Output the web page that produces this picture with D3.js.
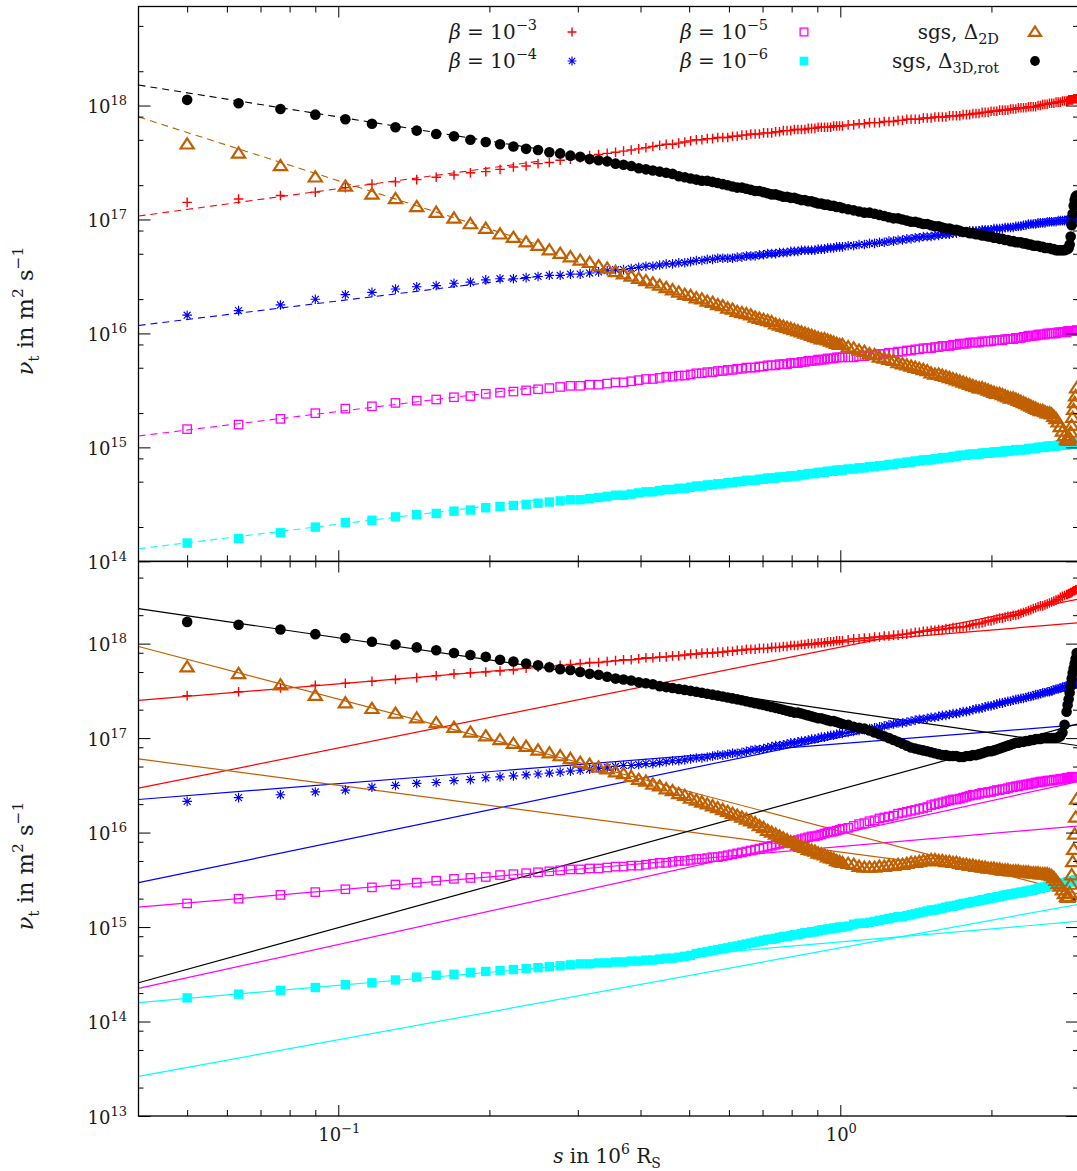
<!DOCTYPE html>
<html>
<head>
<meta charset="utf-8">
<script src="https://cdn.jsdelivr.net/npm/d3@7"></script>
<style>
  body { margin: 0; background: #fff; }
  svg { display: block; }
  text { font-family: "DejaVu Serif", "Liberation Serif", serif; fill: #1a1a1a; }
</style>
</head>
<body>
<svg id="chart" width="1077" height="1171"></svg>
<script>
// Distance along the jet, s (in 10^6 R_S), at which the profiles are sampled
const sGrid = [
  0.05,0.0633,0.0767,0.09,0.1033,0.1167,0.13,0.1433,0.1567,0.17,
  0.1833,0.1967,0.21,0.2233,0.2367,0.25,0.2633,0.2767,0.29,0.3033,
  0.3167,0.33,0.3433,0.3567,0.37,0.3833,0.3967,0.41,0.4233,0.4367,
  0.45,0.4633,0.4767,0.49,0.5033,0.5167,0.53,0.5433,0.5567,0.57,
  0.5833,0.5967,0.61,0.6233,0.6367,0.65,0.6633,0.6767,0.69,0.7033,
  0.7167,0.73,0.7433,0.7567,0.77,0.7833,0.7967,0.81,0.8233,0.8367,
  0.85,0.8633,0.8767,0.89,0.9033,0.9167,0.93,0.9433,0.9567,0.97,
  0.9833,0.9967,1.01,1.0367,1.0633,1.09,1.1167,1.1433,1.17,1.1967,
  1.2233,1.25,1.2767,1.3033,1.33,1.3567,1.3833,1.41,1.4367,1.4633,
  1.49,1.5167,1.5433,1.57,1.5967,1.6233,1.65,1.6767,1.7033,1.73,
  1.7567,1.7833,1.81,1.8367,1.8633,1.89,1.9167,1.9433,1.97,1.9967,
  2.0233,2.05,2.0767,2.1033,2.13,2.1567,2.1833,2.21,2.2367,2.2633,
  2.29,2.3167,2.3433,2.37,2.3967,2.4233,2.45,2.4767,2.5033,2.53,
  2.5567,2.5833,2.61,2.6367,2.6633,2.69,2.7167,2.7433,2.77,2.7967,
  2.8233,2.8367,2.85,2.8633,2.8767,2.89,2.9033,2.9167,2.93,2.9433,
  2.9567];

// log10 of nu_t (m^2 s^-1), upper panel
const topBeta3 = [
  17.15,17.18,17.21,17.24,17.28,17.31,17.33,17.35,17.37,17.39,
  17.41,17.42,17.44,17.46,17.47,17.49,17.50,17.52,17.53,17.54,
  17.56,17.57,17.58,17.59,17.60,17.61,17.62,17.63,17.64,17.65,
  17.66,17.66,17.67,17.68,17.69,17.70,17.70,17.71,17.71,17.72,
  17.72,17.72,17.73,17.73,17.74,17.74,17.75,17.75,17.75,17.76,
  17.76,17.76,17.77,17.77,17.78,17.78,17.78,17.79,17.79,17.79,
  17.79,17.80,17.80,17.80,17.81,17.81,17.81,17.81,17.81,17.82,
  17.82,17.82,17.82,17.83,17.83,17.84,17.84,17.85,17.85,17.85,
  17.86,17.86,17.86,17.87,17.87,17.88,17.88,17.88,17.88,17.89,
  17.89,17.89,17.90,17.90,17.90,17.90,17.91,17.91,17.91,17.91,
  17.92,17.92,17.92,17.93,17.93,17.93,17.94,17.94,17.94,17.95,
  17.95,17.95,17.96,17.96,17.96,17.96,17.97,17.97,17.97,17.98,
  17.98,17.98,17.98,17.99,17.99,17.99,17.99,18.00,18.00,18.01,
  18.01,18.01,18.02,18.02,18.02,18.03,18.03,18.03,18.04,18.04,
  18.04,18.04,18.05,18.05,18.05,18.05,18.05,18.06,18.06,18.06,
  18.06];
const topBeta4 = [
  16.16,16.20,16.25,16.30,16.34,16.36,16.39,16.41,16.42,16.44,
  16.45,16.47,16.48,16.48,16.49,16.50,16.51,16.51,16.52,16.52,
  16.53,16.54,16.55,16.56,16.56,16.57,16.58,16.59,16.59,16.60,
  16.61,16.61,16.62,16.62,16.63,16.64,16.64,16.65,16.65,16.66,
  16.66,16.66,16.66,16.67,16.67,16.68,16.68,16.68,16.69,16.69,
  16.70,16.70,16.70,16.71,16.71,16.71,16.72,16.72,16.72,16.73,
  16.73,16.73,16.73,16.73,16.74,16.74,16.74,16.75,16.75,16.75,
  16.76,16.76,16.76,16.77,16.77,16.78,16.78,16.79,16.79,16.80,
  16.80,16.81,16.81,16.82,16.82,16.83,16.83,16.84,16.84,16.85,
  16.85,16.85,16.86,16.86,16.87,16.87,16.87,16.88,16.88,16.89,
  16.89,16.89,16.90,16.90,16.90,16.90,16.91,16.91,16.91,16.91,
  16.92,16.92,16.92,16.92,16.93,16.93,16.93,16.93,16.94,16.94,
  16.94,16.95,16.95,16.96,16.96,16.96,16.96,16.97,16.97,16.97,
  16.97,16.98,16.98,16.98,16.98,16.98,16.99,16.99,16.99,16.99,
  16.99,17.00,17.00,17.00,17.00,17.00,17.00,17.00,17.00,17.00,
  17.01];
const topBeta5 = [
  15.16,15.20,15.25,15.30,15.34,15.36,15.39,15.41,15.42,15.44,
  15.45,15.47,15.48,15.49,15.50,15.51,15.52,15.53,15.54,15.54,
  15.55,15.55,15.56,15.57,15.57,15.58,15.59,15.60,15.60,15.61,
  15.62,15.62,15.63,15.63,15.64,15.65,15.65,15.66,15.66,15.67,
  15.67,15.68,15.68,15.69,15.69,15.70,15.70,15.70,15.71,15.71,
  15.72,15.72,15.72,15.73,15.73,15.73,15.74,15.74,15.74,15.75,
  15.75,15.76,15.76,15.76,15.77,15.77,15.77,15.78,15.78,15.78,
  15.79,15.79,15.79,15.79,15.79,15.80,15.80,15.81,15.81,15.82,
  15.82,15.83,15.83,15.84,15.84,15.85,15.85,15.86,15.86,15.87,
  15.87,15.87,15.88,15.88,15.89,15.89,15.89,15.90,15.90,15.91,
  15.91,15.91,15.92,15.92,15.92,15.92,15.93,15.93,15.93,15.93,
  15.94,15.94,15.94,15.94,15.95,15.95,15.95,15.95,15.96,15.96,
  15.96,15.97,15.97,15.98,15.98,15.98,15.98,15.99,15.99,15.99,
  15.99,16.00,16.00,16.00,16.00,16.00,16.01,16.01,16.01,16.01,
  16.01,16.02,16.02,16.02,16.02,16.02,16.02,16.02,16.02,16.02,
  16.03];
const topBeta6 = [
  14.16,14.20,14.25,14.30,14.34,14.36,14.39,14.41,14.42,14.44,
  14.45,14.47,14.48,14.49,14.50,14.51,14.52,14.53,14.54,14.54,
  14.55,14.56,14.57,14.58,14.58,14.59,14.60,14.61,14.61,14.62,
  14.63,14.63,14.64,14.64,14.65,14.66,14.66,14.67,14.67,14.68,
  14.68,14.69,14.69,14.70,14.70,14.71,14.71,14.71,14.72,14.72,
  14.73,14.73,14.73,14.74,14.74,14.74,14.75,14.75,14.75,14.76,
  14.76,14.77,14.77,14.77,14.78,14.78,14.78,14.79,14.79,14.79,
  14.80,14.80,14.80,14.81,14.81,14.82,14.82,14.83,14.83,14.84,
  14.84,14.85,14.85,14.86,14.86,14.87,14.87,14.88,14.88,14.89,
  14.89,14.89,14.90,14.90,14.91,14.91,14.91,14.92,14.92,14.93,
  14.93,14.93,14.94,14.94,14.94,14.94,14.95,14.95,14.95,14.95,
  14.96,14.96,14.96,14.96,14.97,14.97,14.97,14.97,14.98,14.98,
  14.98,14.98,14.98,14.99,14.99,14.99,14.99,15.00,15.00,15.00,
  15.00,15.01,15.01,15.01,15.01,15.01,15.02,15.02,15.02,15.02,
  15.02,15.03,15.03,15.03,15.03,15.03,15.03,15.03,15.03,15.03,
  15.04];
const topSgs2D = [
  17.66,17.58,17.47,17.37,17.29,17.22,17.18,17.11,17.06,17.01,
  16.96,16.92,16.87,16.84,16.80,16.77,16.73,16.70,16.67,16.64,
  16.62,16.59,16.57,16.54,16.52,16.50,16.48,16.46,16.44,16.42,
  16.40,16.38,16.36,16.34,16.33,16.31,16.30,16.28,16.27,16.25,
  16.24,16.22,16.21,16.19,16.18,16.17,16.16,16.14,16.13,16.12,
  16.11,16.10,16.08,16.07,16.06,16.05,16.04,16.03,16.02,16.01,
  16.00,15.99,15.98,15.97,15.96,15.95,15.95,15.94,15.93,15.92,
  15.91,15.90,15.90,15.88,15.87,15.85,15.84,15.82,15.81,15.79,
  15.78,15.77,15.76,15.74,15.73,15.72,15.71,15.70,15.69,15.68,
  15.67,15.65,15.64,15.64,15.63,15.62,15.61,15.60,15.59,15.58,
  15.57,15.56,15.55,15.54,15.53,15.52,15.52,15.51,15.50,15.49,
  15.48,15.47,15.47,15.46,15.45,15.44,15.43,15.43,15.42,15.41,
  15.40,15.39,15.38,15.37,15.36,15.35,15.34,15.33,15.32,15.32,
  15.31,15.30,15.30,15.29,15.27,15.25,15.22,15.18,15.14,15.10,
  15.07,15.06,15.06,15.08,15.13,15.19,15.26,15.33,15.39,15.45,
  15.52];
const topSgs3D = [
  18.05,18.02,17.97,17.92,17.88,17.84,17.81,17.78,17.75,17.73,
  17.70,17.68,17.66,17.64,17.62,17.61,17.59,17.58,17.56,17.55,
  17.53,17.52,17.51,17.49,17.48,17.47,17.45,17.44,17.43,17.42,
  17.41,17.40,17.38,17.37,17.36,17.35,17.34,17.34,17.33,17.32,
  17.31,17.30,17.29,17.28,17.28,17.27,17.26,17.25,17.25,17.24,
  17.23,17.22,17.22,17.21,17.20,17.20,17.19,17.19,17.18,17.17,
  17.17,17.16,17.16,17.15,17.14,17.14,17.13,17.13,17.12,17.12,
  17.11,17.11,17.10,17.09,17.08,17.07,17.06,17.06,17.05,17.04,
  17.03,17.02,17.01,17.01,17.00,16.99,16.98,16.98,16.97,16.96,
  16.96,16.95,16.94,16.94,16.93,16.92,16.92,16.91,16.91,16.90,
  16.89,16.89,16.88,16.88,16.87,16.87,16.86,16.86,16.85,16.85,
  16.84,16.84,16.83,16.83,16.82,16.82,16.81,16.81,16.80,16.80,
  16.80,16.79,16.79,16.78,16.78,16.77,16.77,16.77,16.76,16.76,
  16.75,16.75,16.75,16.74,16.74,16.73,16.73,16.73,16.73,16.73,
  16.74,16.74,16.75,16.78,16.85,16.95,17.05,17.12,17.17,17.20,
  17.21];

// log10 of nu_t (m^2 s^-1), lower panel
const botBeta3 = [
  17.45,17.49,17.53,17.56,17.58,17.60,17.62,17.64,17.66,17.68,
  17.69,17.70,17.71,17.72,17.74,17.75,17.76,17.77,17.78,17.79,
  17.80,17.80,17.81,17.82,17.83,17.83,17.84,17.85,17.85,17.86,
  17.86,17.87,17.87,17.88,17.89,17.89,17.90,17.90,17.90,17.91,
  17.91,17.92,17.92,17.93,17.93,17.94,17.94,17.94,17.95,17.95,
  17.95,17.96,17.96,17.96,17.97,17.97,17.98,17.98,17.98,17.99,
  17.99,18.00,18.00,18.00,18.01,18.01,18.01,18.02,18.02,18.02,
  18.03,18.03,18.03,18.04,18.05,18.05,18.06,18.06,18.07,18.07,
  18.08,18.08,18.09,18.09,18.10,18.10,18.11,18.12,18.12,18.13,
  18.13,18.14,18.14,18.15,18.15,18.16,18.16,18.17,18.17,18.17,
  18.18,18.18,18.19,18.20,18.21,18.21,18.22,18.23,18.24,18.24,
  18.25,18.26,18.27,18.27,18.28,18.29,18.29,18.30,18.30,18.31,
  18.32,18.33,18.34,18.35,18.36,18.37,18.38,18.39,18.40,18.40,
  18.41,18.42,18.43,18.44,18.45,18.46,18.47,18.49,18.50,18.51,
  18.52,18.52,18.53,18.53,18.54,18.54,18.55,18.56,18.56,18.57,
  18.57];
const botBeta4 = [
  16.33,16.37,16.40,16.43,16.45,16.48,16.50,16.52,16.53,16.55,
  16.56,16.58,16.59,16.60,16.61,16.62,16.63,16.64,16.65,16.66,
  16.67,16.68,16.69,16.70,16.71,16.71,16.72,16.73,16.73,16.74,
  16.75,16.76,16.76,16.77,16.78,16.79,16.79,16.80,16.81,16.82,
  16.82,16.83,16.84,16.84,16.85,16.86,16.87,16.88,16.88,16.89,
  16.90,16.91,16.92,16.92,16.93,16.94,16.95,16.95,16.96,16.97,
  16.97,16.98,16.99,16.99,17.00,17.01,17.01,17.02,17.03,17.03,
  17.04,17.05,17.05,17.06,17.07,17.08,17.09,17.10,17.11,17.12,
  17.13,17.14,17.15,17.16,17.16,17.17,17.18,17.19,17.20,17.20,
  17.21,17.22,17.22,17.23,17.24,17.24,17.25,17.26,17.26,17.27,
  17.28,17.28,17.29,17.30,17.31,17.31,17.32,17.33,17.34,17.34,
  17.35,17.36,17.37,17.37,17.38,17.39,17.39,17.40,17.41,17.41,
  17.42,17.42,17.43,17.44,17.44,17.45,17.46,17.46,17.47,17.48,
  17.48,17.49,17.49,17.50,17.51,17.52,17.52,17.53,17.54,17.54,
  17.55,17.55,17.56,17.56,17.56,17.57,17.57,17.57,17.58,17.58,
  17.58];
const botBeta5 = [
  15.25,15.30,15.34,15.37,15.40,15.42,15.45,15.47,15.49,15.51,
  15.52,15.53,15.55,15.56,15.57,15.58,15.59,15.60,15.61,15.61,
  15.62,15.62,15.63,15.64,15.64,15.65,15.65,15.66,15.67,15.68,
  15.68,15.69,15.70,15.70,15.71,15.72,15.72,15.73,15.74,15.74,
  15.75,15.76,15.77,15.78,15.79,15.80,15.81,15.82,15.83,15.84,
  15.85,15.86,15.87,15.88,15.89,15.90,15.91,15.91,15.92,15.93,
  15.94,15.95,15.96,15.96,15.97,15.98,15.99,16.00,16.01,16.01,
  16.02,16.03,16.04,16.05,16.07,16.09,16.10,16.12,16.13,16.15,
  16.16,16.17,16.18,16.20,16.21,16.22,16.23,16.24,16.25,16.26,
  16.27,16.29,16.30,16.31,16.32,16.33,16.34,16.35,16.35,16.36,
  16.37,16.38,16.39,16.40,16.40,16.41,16.42,16.42,16.43,16.43,
  16.44,16.45,16.45,16.46,16.46,16.47,16.48,16.48,16.49,16.49,
  16.50,16.50,16.51,16.51,16.52,16.52,16.53,16.53,16.54,16.54,
  16.54,16.55,16.55,16.55,16.56,16.56,16.56,16.57,16.57,16.57,
  16.58,16.58,16.58,16.58,16.58,16.59,16.59,16.59,16.59,16.59,
  16.59];
const botBeta6 = [
  14.25,14.29,14.33,14.36,14.39,14.41,14.44,14.47,14.49,14.50,
  14.52,14.53,14.54,14.55,14.56,14.57,14.58,14.59,14.60,14.61,
  14.61,14.62,14.62,14.63,14.63,14.64,14.64,14.65,14.65,14.66,
  14.67,14.67,14.68,14.69,14.70,14.72,14.73,14.74,14.75,14.76,
  14.77,14.78,14.79,14.80,14.81,14.82,14.83,14.84,14.85,14.86,
  14.87,14.87,14.88,14.89,14.90,14.90,14.91,14.92,14.92,14.93,
  14.94,14.94,14.95,14.95,14.96,14.97,14.97,14.98,14.98,14.99,
  14.99,15.00,15.00,15.01,15.03,15.04,15.04,15.05,15.06,15.07,
  15.08,15.09,15.10,15.11,15.11,15.12,15.13,15.14,15.15,15.16,
  15.17,15.18,15.18,15.19,15.20,15.21,15.22,15.22,15.23,15.24,
  15.25,15.25,15.26,15.27,15.27,15.28,15.29,15.29,15.30,15.31,
  15.31,15.32,15.32,15.33,15.34,15.34,15.35,15.35,15.36,15.36,
  15.37,15.37,15.38,15.38,15.39,15.39,15.40,15.41,15.41,15.42,
  15.42,15.43,15.43,15.44,15.44,15.45,15.45,15.46,15.46,15.47,
  15.47,15.48,15.48,15.48,15.48,15.49,15.49,15.49,15.49,15.50,
  15.50];
const botSgs2D = [
  17.75,17.68,17.56,17.45,17.37,17.31,17.26,17.21,17.16,17.11,
  17.06,17.02,16.98,16.94,16.91,16.87,16.84,16.81,16.78,16.74,
  16.72,16.69,16.67,16.64,16.62,16.59,16.56,16.54,16.51,16.49,
  16.46,16.44,16.41,16.39,16.36,16.34,16.32,16.30,16.28,16.26,
  16.24,16.22,16.20,16.18,16.16,16.14,16.12,16.10,16.07,16.05,
  16.02,16.00,15.98,15.96,15.94,15.92,15.90,15.89,15.87,15.85,
  15.84,15.82,15.81,15.80,15.78,15.77,15.76,15.74,15.73,15.72,
  15.70,15.69,15.68,15.67,15.66,15.64,15.63,15.63,15.63,15.64,
  15.64,15.65,15.65,15.66,15.66,15.67,15.68,15.68,15.69,15.70,
  15.70,15.71,15.71,15.70,15.70,15.69,15.69,15.68,15.68,15.67,
  15.66,15.66,15.65,15.65,15.64,15.64,15.63,15.63,15.62,15.62,
  15.62,15.61,15.61,15.60,15.60,15.60,15.59,15.59,15.59,15.59,
  15.58,15.58,15.58,15.58,15.57,15.57,15.57,15.57,15.56,15.56,
  15.56,15.56,15.55,15.54,15.52,15.49,15.46,15.43,15.39,15.35,
  15.32,15.31,15.32,15.36,15.45,15.55,15.69,15.82,15.98,16.16,
  16.35];
const botSgs3D = [
  18.23,18.20,18.15,18.10,18.06,18.02,17.99,17.96,17.93,17.90,
  17.88,17.86,17.83,17.81,17.79,17.77,17.75,17.73,17.72,17.70,
  17.68,17.67,17.65,17.63,17.62,17.61,17.59,17.58,17.57,17.55,
  17.54,17.53,17.52,17.51,17.50,17.49,17.48,17.47,17.46,17.45,
  17.44,17.43,17.42,17.41,17.40,17.39,17.38,17.37,17.36,17.35,
  17.34,17.33,17.32,17.31,17.30,17.29,17.28,17.27,17.27,17.26,
  17.25,17.24,17.23,17.22,17.21,17.21,17.20,17.19,17.18,17.18,
  17.17,17.16,17.15,17.14,17.12,17.11,17.10,17.08,17.06,17.04,
  17.02,17.00,16.98,16.96,16.94,16.92,16.90,16.89,16.88,16.87,
  16.86,16.85,16.84,16.83,16.82,16.82,16.81,16.81,16.81,16.80,
  16.80,16.81,16.81,16.82,16.82,16.83,16.84,16.85,16.86,16.86,
  16.87,16.88,16.89,16.90,16.91,16.92,16.93,16.94,16.95,16.95,
  16.96,16.96,16.97,16.97,16.98,16.98,16.99,16.99,16.99,17.00,
  17.00,17.00,17.00,17.00,17.00,17.00,17.01,17.02,17.06,17.14,
  17.28,17.35,17.41,17.48,17.55,17.63,17.69,17.74,17.79,17.84,
  17.90];

// Power-law fits: log10 nu_t at the two ends of the s range they are drawn over
const topFitS = [0.04, 0.25];
const topFitBeta3 = [17.03, 17.51];
const topFitBeta4 = [16.07, 16.50];
const topFitBeta5 = [15.10, 15.53];
const topFitBeta6 = [14.11, 14.54];
const topFitSgs2D = [17.90, 16.78];
const topFitSgs3D = [18.18, 17.62];

const botFitS = [0.04, 2.975];
const botFitBeta3 = [[17.40, 18.22], [16.47, 18.47]];
const botFitBeta4 = [[16.35, 17.14], [15.47, 17.53]];
const botFitBeta5 = [[15.21, 16.07], [14.35, 16.54]];
const botFitBeta6 = [[14.20, 15.06], [13.42, 15.24]];
const botFitSgs2D = [[17.97, 15.35], [16.78, 15.46]];
const botFitSgs3D = [[18.37, 16.92], [14.41, 17.15]];

// Axis ticks
const xMajorTicks = [0.1, 1];
const xMinorTicks = [0.05, 0.06, 0.07, 0.08, 0.09, 0.2, 0.3, 0.4, 0.5, 0.6, 0.7, 0.8, 0.9, 2];
const xTickExp = ["−1", "0"];
const topMajorExp = [14, 15, 16, 17, 18];
const botMajorExp = [13, 14, 15, 16, 17, 18];
const minorMantissa = [2, 5, 8];

// Legend entries
const legendLabels = [
  [{t: "β", i: true}, {t: " = 10"}, {t: "−3", sup: true}],
  [{t: "β", i: true}, {t: " = 10"}, {t: "−4", sup: true}],
  [{t: "β", i: true}, {t: " = 10"}, {t: "−5", sup: true}],
  [{t: "β", i: true}, {t: " = 10"}, {t: "−6", sup: true}],
  [{t: "sgs, Δ"}, {t: "2D", sub: true}],
  [{t: "sgs, Δ"}, {t: "3D,rot", sub: true}]
];

const seriesStyle = [
  {color: "#ff0000", marker: "plus"},
  {color: "#0000ff", marker: "star"},
  {color: "#ff00ff", marker: "openSquare"},
  {color: "#00ffff", marker: "filledSquare"},
  {color: "#c06000", marker: "triangle"},
  {color: "#000000", marker: "circle"}
];

const svg = d3.select("#chart");
const X0 = 138.5, X1 = 1078;
const x = d3.scaleLog().domain([0.04, 2.975]).range([X0, X1]);

const panels = [
  {
    y: d3.scaleLog().domain([1e14, 7.4e18]).range([561.3, 6.5]),
    exps: topMajorExp,
    series: [topBeta3, topBeta4, topBeta5, topBeta6, topSgs2D, topSgs3D],
    fits: [topFitBeta3, topFitBeta4, topFitBeta5, topFitBeta6, topFitSgs2D, topFitSgs3D].map(f => [f]),
    fitS: topFitS, dashed: true, titleY: 311
  },
  {
    y: d3.scaleLog().domain([1e13, 7.4e18]).range([1116, 561.5]),
    exps: botMajorExp,
    series: [botBeta3, botBeta4, botBeta5, botBeta6, botSgs2D, botSgs3D],
    fits: [botFitBeta3, botFitBeta4, botFitBeta5, botFitBeta6, botFitSgs2D, botFitSgs3D],
    fitS: botFitS, dashed: false, titleY: 866
  }
];

function rich(sel, parts, base, small) {
  let shift = 0;
  parts.forEach(p => {
    const target = p.sup ? -base * 0.44 : p.sub ? base * 0.26 : 0;
    sel.append("tspan")
      .attr("dy", target - shift)
      .attr("font-size", (p.sup || p.sub) ? small : base)
      .attr("font-style", p.i ? "italic" : null)
      .text(p.t);
    shift = target;
  });
}

function marker(g, type, cx, cy, color, k = 1) {
  const h = 4.8 * k;
  if (type === "plus") {
    g.append("path").attr("d", `M${cx - h},${cy}H${cx + h}M${cx},${cy - h}V${cy + h}`)
      .attr("stroke", color).attr("stroke-width", 1.4).attr("fill", "none");
  } else if (type === "star") {
    const d = h * 0.72;
    g.append("path").attr("d", `M${cx - h},${cy}H${cx + h}M${cx},${cy - h}V${cy + h}M${cx - d},${cy - d}L${cx + d},${cy + d}M${cx - d},${cy + d}L${cx + d},${cy - d}`)
      .attr("stroke", color).attr("stroke-width", 1.15).attr("fill", "none");
  } else if (type === "openSquare") {
    const a = 4.2 * k;
    g.append("rect").attr("x", cx - a).attr("y", cy - a).attr("width", 2 * a).attr("height", 2 * a)
      .attr("stroke", color).attr("stroke-width", 1.3).attr("fill", "none");
  } else if (type === "filledSquare") {
    const a = 4.7 * k;
    g.append("rect").attr("x", cx - a).attr("y", cy - a).attr("width", 2 * a).attr("height", 2 * a)
      .attr("fill", color);
  } else if (type === "triangle") {
    const w = 6.6 * k, t = 6.0 * k, b = 4.2 * k;
    g.append("path").attr("d", `M${cx},${cy - t}L${cx + w},${cy + b}L${cx - w},${cy + b}Z`)
      .attr("stroke", color).attr("stroke-width", 2.2).attr("stroke-linejoin", "miter").attr("fill", "none");
  } else if (type === "circle") {
    g.append("circle").attr("cx", cx).attr("cy", cy).attr("r", 5.3 * k).attr("fill", color);
  }
}

panels.forEach((P, pi) => {
  const y = P.y;
  const [yb, yt] = y.range();
  const clipId = "clip" + pi;
  svg.append("clipPath").attr("id", clipId)
    .append("rect").attr("x", X0).attr("y", yt).attr("width", X1 - X0).attr("height", yb - yt);

  // fitted power laws
  const fitG = svg.append("g").attr("clip-path", `url(#${clipId})`);
  P.fits.forEach((lines, si) => {
    lines.forEach(ends => {
      fitG.append("line")
        .attr("x1", x(P.fitS[0])).attr("y1", y(10 ** ends[0]))
        .attr("x2", x(P.fitS[1])).attr("y2", y(10 ** ends[1]))
        .attr("stroke", seriesStyle[si].color)
        .attr("stroke-width", P.dashed ? 1.1 : 1.2)
        .attr("stroke-dasharray", P.dashed ? "7,5" : null);
    });
  });

  // data markers
  const ptsG = svg.append("g");
  P.series.forEach((vals, si) => {
    const st = seriesStyle[si];
    vals.forEach((v, k) => marker(ptsG, st.marker, x(sGrid[k]), y(10 ** v), st.color));
  });

  // frame
  svg.append("rect").attr("x", X0).attr("y", yt).attr("width", X1 - X0).attr("height", yb - yt)
    .attr("fill", "none").attr("stroke", "#000").attr("stroke-width", 1.3);

  const axG = svg.append("g");
  const styleAxis = g => { g.select(".domain").remove(); g.selectAll("line").attr("stroke", "#000").attr("stroke-width", 1); };
  // x ticks, pointing inward from the bottom and top edges
  axG.append("g").attr("transform", `translate(0,${yb})`)
    .call(d3.axisBottom(x).tickValues(xMajorTicks).tickSize(-11).tickFormat("")).call(styleAxis);
  axG.append("g").attr("transform", `translate(0,${yb})`)
    .call(d3.axisBottom(x).tickValues(xMinorTicks).tickSize(-6).tickFormat("")).call(styleAxis);
  axG.append("g").attr("transform", `translate(0,${yt})`)
    .call(d3.axisTop(x).tickValues(xMajorTicks).tickSize(-11).tickFormat("")).call(styleAxis);
  axG.append("g").attr("transform", `translate(0,${yt})`)
    .call(d3.axisTop(x).tickValues(xMinorTicks).tickSize(-6).tickFormat("")).call(styleAxis);

  // y ticks, pointing inward from the left and right edges
  const [d0, d1] = y.domain();
  const majors = P.exps.map(e => 10 ** e);
  const minors = [];
  for (let e = P.exps[0] - 1; e <= P.exps[P.exps.length - 1]; e++) {
    minorMantissa.forEach(m => { const v = m * 10 ** e; if (v > d0 && v < d1) minors.push(v); });
  }
  axG.append("g").attr("transform", `translate(${X0},0)`)
    .call(d3.axisLeft(y).tickValues(majors).tickSize(-12).tickFormat("")).call(styleAxis);
  axG.append("g").attr("transform", `translate(${X0},0)`)
    .call(d3.axisLeft(y).tickValues(minors).tickSize(-5).tickFormat("")).call(styleAxis);
  axG.append("g").attr("transform", `translate(${X1},0)`)
    .call(d3.axisRight(y).tickValues(majors).tickSize(-12).tickFormat("")).call(styleAxis);
  axG.append("g").attr("transform", `translate(${X1},0)`)
    .call(d3.axisRight(y).tickValues(minors).tickSize(-5).tickFormat("")).call(styleAxis);

  // y tick labels
  P.exps.forEach(e => {
    const t = svg.append("text").attr("x", 127).attr("y", y(10 ** e) + 7.5).attr("text-anchor", "end");
    rich(t, [{t: "10"}, {t: String(e), sup: true}], 18, 13);
  });

  // y axis title
  const yt2 = svg.append("text").attr("text-anchor", "middle")
    .attr("transform", `translate(33,${P.titleY}) rotate(-90)`);
  rich(yt2, [{t: "ν", i: true}, {t: "t", sub: true}, {t: " in m"}, {t: "2", sup: true}, {t: " s"}, {t: "−1", sup: true}], 22.5, 15.5);
});

// x tick labels and axis title
xMajorTicks.forEach((v, i) => {
  const t = svg.append("text").attr("x", x(v) + 1).attr("y", 1141).attr("text-anchor", "middle");
  rich(t, [{t: "10"}, {t: xTickExp[i], sup: true}], 18, 13);
});
const xt = svg.append("text").attr("x", 607).attr("y", 1163).attr("text-anchor", "middle");
rich(xt, [{t: "s", i: true}, {t: " in 10"}, {t: "6", sup: true}, {t: " R"}, {t: "S", sub: true}], 20, 14);

// legend (upper panel)
const legendTextX = [537, 537, 768, 768, 999, 999];
const legendSymX = [572, 572, 804, 804, 1035, 1035];
const legendRowY = [32, 61];
legendLabels.forEach((parts, i) => {
  const row = i % 2;
  const t = svg.append("text").attr("x", legendTextX[i]).attr("y", legendRowY[row] + 7).attr("text-anchor", "end");
  rich(t, parts, 20, 14.5);
  marker(svg, seriesStyle[i].marker, legendSymX[i], legendRowY[row], seriesStyle[i].color, 0.92);
});
</script>
</body>
</html>
